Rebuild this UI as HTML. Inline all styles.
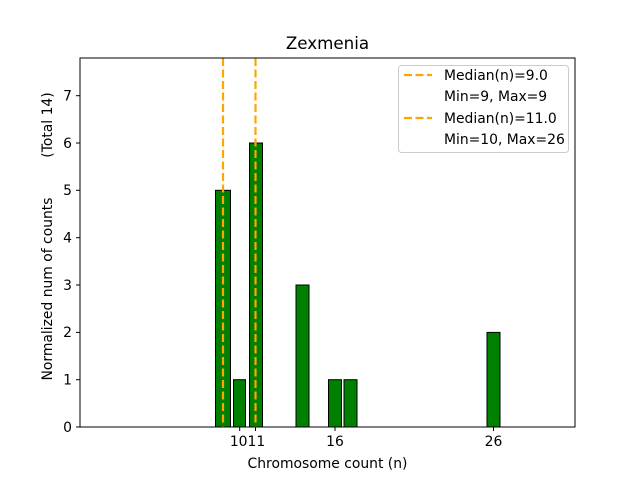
<!DOCTYPE html>
<html><head><meta charset="utf-8"><style>body{margin:0;background:#fff}</style></head><body>
<svg width="640" height="480" viewBox="0 0 640 480" xmlns="http://www.w3.org/2000/svg" font-family="DejaVu Sans, Liberation Sans, sans-serif">
<rect width="640" height="480" fill="#fff"/>
<g fill="#008000" stroke="#000" stroke-width="1">
<rect x="215.5" y="190.3" width="15" height="236.7"/>
<rect x="233.5" y="379.7" width="12" height="47.3"/>
<rect x="249.5" y="143" width="13" height="284"/>
<rect x="296" y="285" width="13" height="142"/>
<rect x="328.5" y="379.7" width="13" height="47.3"/>
<rect x="344" y="379.7" width="13" height="47.3"/>
<rect x="487" y="332.4" width="13" height="94.6"/>
</g>
<g stroke="#FFA500" stroke-width="2.2" stroke-dasharray="8,3.5">
<line x1="223" y1="58" x2="223" y2="427"/>
<line x1="255.5" y1="58" x2="255.5" y2="427"/>
</g>
<rect x="80" y="58" width="495" height="369" fill="none" stroke="#000" stroke-width="1"/>
<g stroke="#000">
<line x1="80" y1="427" x2="76" y2="427"/><line x1="80" y1="379.7" x2="76" y2="379.7"/><line x1="80" y1="332.4" x2="76" y2="332.4"/><line x1="80" y1="285" x2="76" y2="285"/><line x1="80" y1="237.7" x2="76" y2="237.7"/><line x1="80" y1="190.3" x2="76" y2="190.3"/><line x1="80" y1="143" x2="76" y2="143"/><line x1="80" y1="95.7" x2="76" y2="95.7"/>
<line x1="239.7" y1="427" x2="239.7" y2="431"/><line x1="255.5" y1="427" x2="255.5" y2="431"/><line x1="335" y1="427" x2="335" y2="431"/><line x1="493.5" y1="427" x2="493.5" y2="431"/>
</g>
<g font-size="13.9" text-anchor="end" fill="#000">
<text x="72" y="432">0</text><text x="72" y="384.5">1</text><text x="72" y="337">2</text><text x="72" y="290">3</text><text x="72" y="242.5">4</text><text x="72" y="195">5</text><text x="72" y="148">6</text><text x="72" y="100.5">7</text>
</g>
<g font-size="13.9" text-anchor="middle" fill="#000">
<text x="247.5" y="446">1011</text><text x="335" y="446">16</text><text x="493.5" y="446">26</text>
<text x="327.5" y="468">Chromosome count (n)</text>
<text x="327.5" y="49" font-size="16.7">Zexmenia</text>
<text transform="translate(52,289) rotate(-90)">Normalized num of counts</text>
<text transform="translate(52,125) rotate(-90)">(Total 14)</text>
</g>
<g>
<rect x="398.5" y="65.5" width="170" height="87" rx="3" fill="#fff" stroke="#ccc"/>
<line x1="404" y1="75" x2="432" y2="75" stroke="#FFA500" stroke-width="2.2" stroke-dasharray="8,3.5"/>
<line x1="404" y1="118" x2="432" y2="118" stroke="#FFA500" stroke-width="2.2" stroke-dasharray="8,3.5"/>
<g font-size="13.9" fill="#000">
<text x="444" y="80">Median(n)=9.0</text>
<text x="444" y="101">Min=9, Max=9</text>
<text x="444" y="123">Median(n)=11.0</text>
<text x="444" y="144">Min=10, Max=26</text>
</g>
</g>
</svg>
</body></html>
